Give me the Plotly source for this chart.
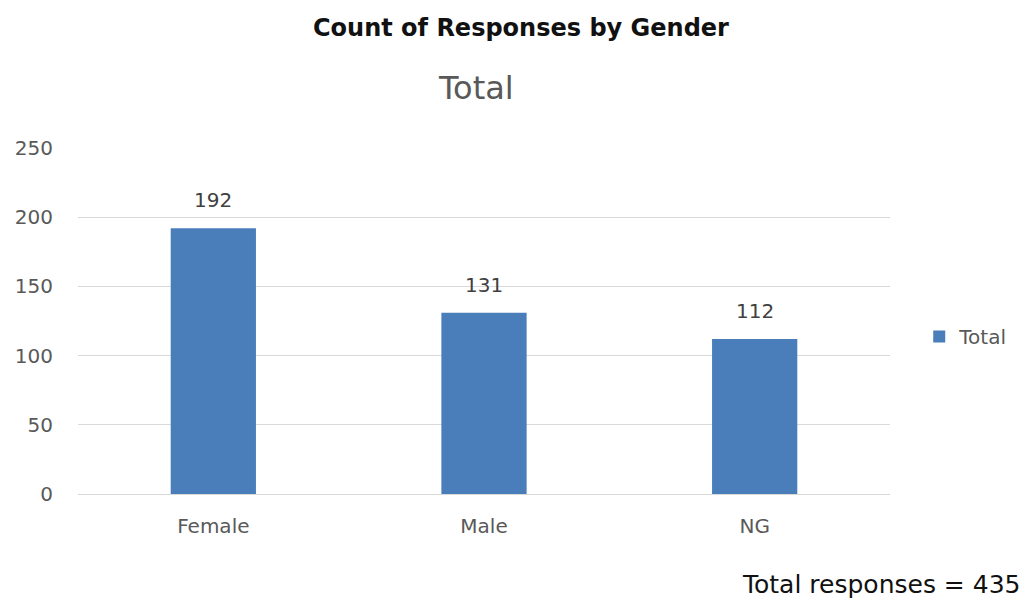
import plotly.graph_objects as go

categories = ["Female", "Male", "NG"]
totals = [192, 131, 112]
y_ticks = [0, 50, 100, 150, 200, 250]
total_responses = 435

FONT = "DejaVu Sans"
bar_color = "#4A7EBB"

fig = go.Figure()
fig.add_trace(go.Bar(
    x=categories, y=totals, name="Total",
    marker=dict(color=bar_color, line=dict(width=0)),
    width=0.315, showlegend=True,
))

for c, v in zip(categories, totals):
    fig.add_annotation(x=c, y=v, text=str(v), showarrow=False, yshift=28,
                       font=dict(family=FONT, size=20, color="#404040"))

fig.add_annotation(xref="paper", yref="paper", x=0.545, y=1.347, yanchor="middle",
                   text="<b>Count of Responses by Gender</b>",
                   showarrow=False, font=dict(family=FONT, size=24, color="#111111"))
fig.add_annotation(xref="paper", yref="paper", x=0.490, y=1.173, yanchor="middle", text="Total",
                   showarrow=False, font=dict(family=FONT, size=32, color="#595959"))
fig.add_annotation(xref="paper", yref="paper", x=1.163, xanchor="right", y=-0.263, yanchor="middle",
                   text="Total responses = " + str(total_responses),
                   showarrow=False, font=dict(family=FONT, size=25, color="#111111"))

fig.update_layout(
    width=1026, height=606,
    margin=dict(l=78, r=136, t=148, b=112),
    paper_bgcolor="white", plot_bgcolor="white",
    font=dict(family=FONT, color="#595959"),
    legend=dict(x=1.036, y=0.455, xanchor="left", yanchor="middle",
                font=dict(family=FONT, size=20, color="#595959"),
                itemwidth=30, bgcolor="rgba(0,0,0,0)"),
    xaxis=dict(range=[-0.5, 2.5], showgrid=False, showline=True, linecolor="#D9D9D9",
               linewidth=1, ticks="", ticklabelstandoff=14,
               tickfont=dict(family=FONT, size=20, color="#595959"),
               zeroline=False),
    yaxis=dict(range=[0, 250], tickvals=y_ticks, showgrid=True, gridcolor="#D9D9D9",
               gridwidth=1, zeroline=False, showline=False, ticks="", ticklabelstandoff=24,
               tickfont=dict(family=FONT, size=20, color="#595959")),
    bargap=0.68,
)

fig.write_html("out.html")
